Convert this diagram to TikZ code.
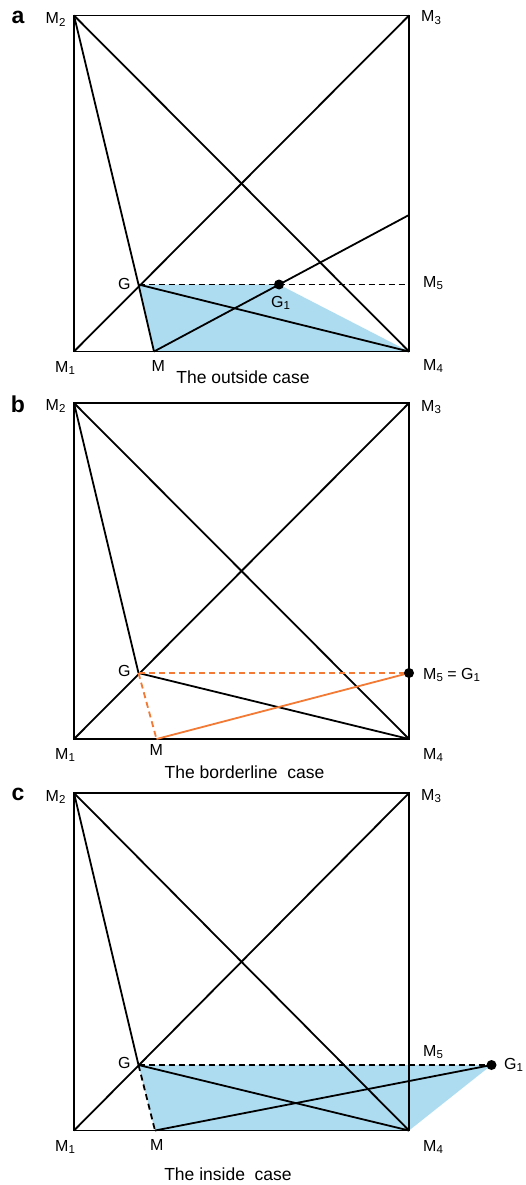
\documentclass[tikz,border=0pt]{standalone}
\usepackage{fontspec}
\setmainfont{Liberation Sans}
\definecolor{shadeblue}{RGB}{173,220,241}
\definecolor{orng}{RGB}{242,122,52}
\newcommand\lsub[1]{\raisebox{-2.4pt}{\fontsize{11.5}{11.5}\selectfont #1}}
\begin{document}
\begin{tikzpicture}[x=1pt,y=-1pt,
  seg/.style={line width=1.8pt},
  dsh/.style={seg, dash pattern=on 6pt off 4pt},
  lab/.style={inner sep=0pt, anchor=base west, font=\fontsize{16}{18}\selectfont},
  captxt/.style={inner sep=0pt, anchor=base, font=\fontsize{17.5}{20}\selectfont},
  panlab/.style={inner sep=0pt, anchor=base, font=\fontsize{23}{26}\selectfont\bfseries},
  gdot/.style={fill=black}]
\useasboundingbox (0,0) rectangle (525,1185);

% ---------------- panel a ----------------
\coordinate (aM1) at (74,351.5);
\coordinate (aM2) at (74,15.5);
\coordinate (aM3) at (409,15.5);
\coordinate (aM4) at (409,351.5);
\coordinate (aM5) at (409,284.5);
\coordinate (aG) at (138.5,284.5);
\coordinate (aM) at (154,351.5);
\coordinate (aG1) at (279,284.5);
\coordinate (aE) at (409,215);
\fill[shadeblue] (aG) -- (aG1) -- (aM4) -- (aM) -- cycle;
\draw[seg] (aM1) rectangle (aM3);
\draw[seg] (aM2) -- (aM4);
\draw[seg] (aM1) -- (aM3);
\draw[seg] (aM2) -- (aG) -- (aM);
\draw[seg] (aG) -- (aM4);
\draw[seg] (aM) -- (aE);
\draw[dsh] (aG) -- (aM5);
\fill[gdot] (aG1) circle (5);
\node[panlab] (aL) at (18,23.3) {a};
\node[lab] (aLM2) at (45.5,24) {M\lsub{2}};
\node[lab] (aLM3) at (421,22) {M\lsub{3}};
\node[lab] (aLM1) at (55,372) {M\lsub{1}};
\node[lab] (aLM) at (151.5,371) {M};
\node[lab] (aLM4) at (423,370) {M\lsub{4}};
\node[lab] (aLM5) at (423,287) {M\lsub{5}};
\node[lab] (aLG) at (118,289) {G};
\node[lab] (aLG1) at (271,307) {G\lsub{1}};
\node[captxt] (aCap) at (243,383) {The outside case};

% ---------------- panel b ----------------
\coordinate (bM1) at (74,739);
\coordinate (bM2) at (74,403);
\coordinate (bM3) at (409,403);
\coordinate (bM4) at (409,739);
\coordinate (bM5) at (409,673);
\coordinate (bG) at (138.5,673);
\coordinate (bM) at (156.5,739);
\draw[seg] (bM1) rectangle (bM3);
\draw[seg] (bM2) -- (bM4);
\draw[seg] (bM1) -- (bM3);
\draw[seg] (bM2) -- (bG);
\draw[seg] (bG) -- (bM4);
\draw[dsh, orng] (bG) -- (bM5);
\draw[dsh, orng] (bG) -- (bM);
\draw[seg, orng] (bM) -- (bM5);
\fill[gdot] (bM5) circle (5);
\node[panlab] (bL) at (18,412.3) {b};
\node[lab] (bLM2) at (45.5,410) {M\lsub{2}};
\node[lab] (bLM3) at (421,411) {M\lsub{3}};
\node[lab] (bLM1) at (55,759) {M\lsub{1}};
\node[lab] (bLM) at (149.5,755) {M};
\node[lab] (bLM4) at (423,759) {M\lsub{4}};
\node[lab] (bLG) at (118,676) {G};
\node[lab] (bLM5) at (423,679) {M\lsub{5} = G\lsub{1}};
\node[captxt] (bCap) at (244.5,778) {The borderline\ \ case};

% ---------------- panel c ----------------
\coordinate (cM1) at (74,1130.5);
\coordinate (cM2) at (74,793);
\coordinate (cM3) at (409,793);
\coordinate (cM4) at (409,1130.5);
\coordinate (cM5) at (409,1065);
\coordinate (cG) at (138.5,1065);
\coordinate (cM) at (155,1130.5);
\coordinate (cG1) at (491.5,1065);
\fill[shadeblue] (cG) -- (cG1) -- (cM4) -- (cM) -- cycle;
\draw[seg] (cM1) rectangle (cM3);
\draw[seg] (cM2) -- (cM4);
\draw[seg] (cM1) -- (cM3);
\draw[seg] (cM2) -- (cG);
\draw[seg] (cG) -- (cM4);
\draw[seg] (cM) -- (cG1);
\draw[dsh] (cG) -- (cG1);
\draw[dsh] (cG) -- (cM);
\fill[gdot] (cG1) circle (5);
\node[panlab] (cL) at (18,800) {c};
\node[lab] (cLM2) at (45.5,801) {M\lsub{2}};
\node[lab] (cLM3) at (421,800) {M\lsub{3}};
\node[lab] (cLM1) at (55,1151) {M\lsub{1}};
\node[lab] (cLM) at (150,1150.5) {M};
\node[lab] (cLM4) at (423,1151) {M\lsub{4}};
\node[lab] (cLM5) at (423,1056.5) {M\lsub{5}};
\node[lab] (cLG) at (118,1068) {G};
\node[lab] (cLG1) at (504,1069) {G\lsub{1}};
\node[captxt] (cCap) at (228,1180) {The inside\ \ case};
\end{tikzpicture}
\end{document}
